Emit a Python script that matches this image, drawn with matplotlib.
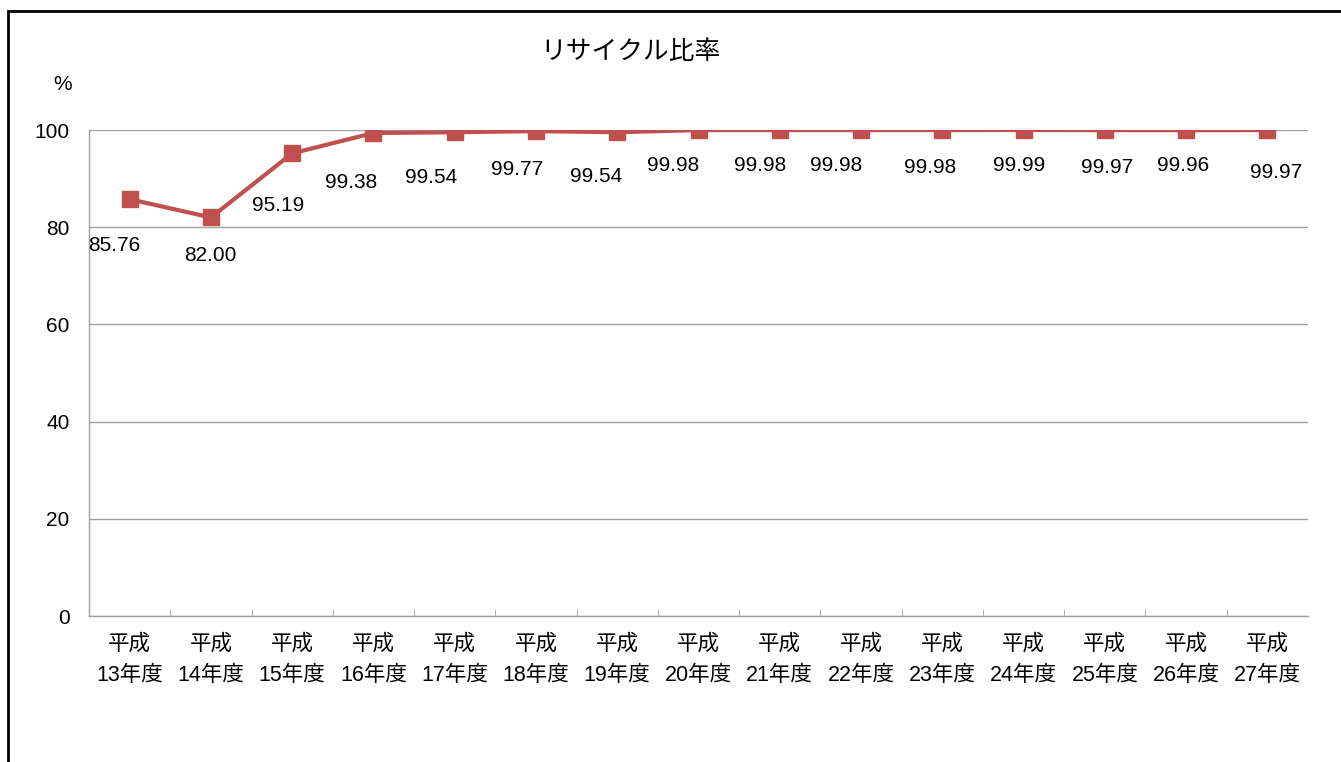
import matplotlib
matplotlib.use("Agg")
import matplotlib.pyplot as plt
from matplotlib.patches import Rectangle

plt.rcParams['font.family'] = ['Liberation Sans', 'Noto Sans CJK JP', 'DejaVu Sans']

years = ['平成\n13年度', '平成\n14年度', '平成\n15年度', '平成\n16年度', '平成\n17年度',
         '平成\n18年度', '平成\n19年度', '平成\n20年度', '平成\n21年度', '平成\n22年度',
         '平成\n23年度', '平成\n24年度', '平成\n25年度', '平成\n26年度', '平成\n27年度']
recycle_rate = [85.76, 82.00, 95.19, 99.38, 99.54, 99.77, 99.54, 99.98,
                99.98, 99.98, 99.98, 99.99, 99.97, 99.96, 99.97]
y_ticks = [0, 20, 40, 60, 80, 100]

# where each data label sits relative to its marker (pixels, y down)
label_offsets = [(-15, 46), (-1, 38), (-14, 52), (-22, 49), (-24, 45),
                 (-19, 38), (-21, 44), (-25, 35), (-20, 35), (-25, 35),
                 (-12, 37), (-4, 35), (2, 37), (-3, 35), (9, 42)]

line_color = '#C0504D'
grid_color = '#A0A0A0'

fig = plt.figure(figsize=(13.41, 7.62), dpi=100)
ax = fig.add_axes([89 / 1341, 146 / 762, (1308 - 89) / 1341, (616 - 130) / 762])

x = list(range(len(years)))
ax.plot(x, recycle_rate, color=line_color, lw=3, marker='s', markersize=12,
        markerfacecolor=line_color, markeredgecolor=line_color, zorder=3)

for i, v in enumerate(recycle_rate):
    dx, dy = label_offsets[i]
    ax.annotate(f'{v:.2f}', (i, v), xytext=(dx, -dy), textcoords='offset pixels',
                ha='center', va='center', fontsize=15, color='black')

ax.set_xlim(-0.5, len(years) - 0.5)
ax.set_ylim(0, 100)
ax.set_yticks(y_ticks)
ax.set_yticklabels([str(t) for t in y_ticks], fontsize=15)
ax.yaxis.grid(True, color=grid_color, lw=1)
ax.set_axisbelow(True)
ax.tick_params(axis='y', length=0, pad=14)

ax.set_xticks(x)
ax.set_xticklabels(years, fontsize=15.5, linespacing=1.65)
ax.set_xticks([i + 0.5 for i in range(len(years) - 1)], minor=True)
ax.tick_params(axis='x', which='major', length=0, pad=13)
ax.tick_params(axis='x', which='minor', length=5, direction='in', color=grid_color)

for side in ['top', 'right']:
    ax.spines[side].set_visible(False)
for side in ['left', 'bottom']:
    ax.spines[side].set_color(grid_color)
    ax.spines[side].set_linewidth(1)

fig.text(630 / 1341, 1 - 52 / 762, 'リサイクル比率', ha='center', va='center', fontsize=18.5)
fig.text(63 / 1341, 1 - 84 / 762, '%', ha='center', va='center', fontsize=15)

fig.add_artist(Rectangle((8 / 1341, -0.1), 1.1, 1.1 - 11 / 762, transform=fig.transFigure,
                         fill=False, edgecolor='black', lw=2))

fig.savefig('out.png', dpi=100)
